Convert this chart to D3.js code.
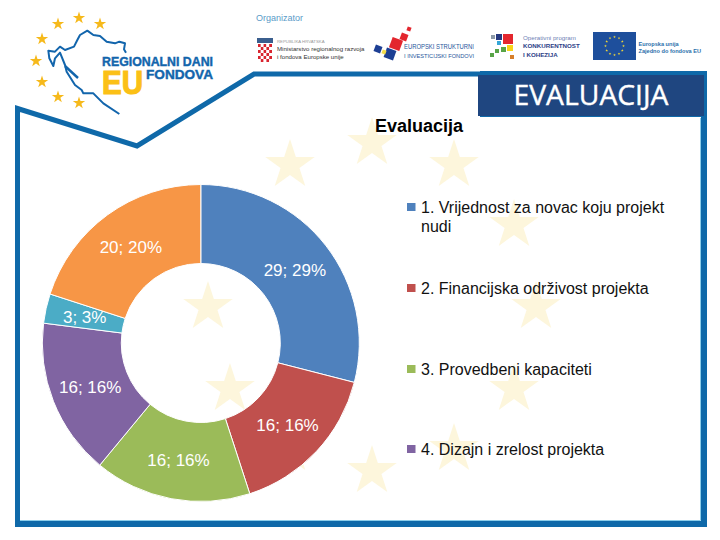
<!DOCTYPE html>
<html><head><meta charset="utf-8">
<script src="https://cdn.jsdelivr.net/npm/d3@7"></script>
<style>html,body{margin:0;padding:0;background:#fff}svg{display:block}</style>
</head><body><svg id="c" width="720" height="540"></svg>
<script>
const sliceValues=[29,16,16,16,3,20];
const sliceColors=["#4F81BD","#C0504D","#9BBB59","#8064A2","#4BACC6","#F79646"];
const legendLines=[["1. Vrijednost za novac koju projekt","nudi"],["2. Financijska održivost projekta"],["3. Provedbeni kapaciteti"],["4. Dizajn i zrelost projekta"]];
const legendY=[207,288,369,449];
const chartTitle="Evaluacija";
const headerTitle="EVALUACIJA";

const svg=d3.select("#c");
const star=r=>d3.symbol().type(d3.symbolStar).size(r*r/0.8908130915)();
const sans="'Liberation Sans',Arial,sans-serif";

// pale star ring behind the chart
const ringAngles=d3.range(12).map(i=>i*Math.PI/6);
svg.append("g").selectAll("path").data(ringAngles).join("path")
  .attr("d",star(26)).attr("fill","#fdf6dc")
  .attr("transform",a=>`translate(${372+164*Math.sin(a)},${307-164*Math.cos(a)})`);

// frame
const blue="#0f69a9";
svg.append("path").attr("d","M17.5,524 L17.5,108.5 L137,146 L254,74 L480,74").attr("fill","none").attr("stroke",blue).attr("stroke-width",5);
svg.append("rect").attr("x",15).attr("y",521).attr("width",692).attr("height",6).attr("fill",blue);
svg.append("rect").attr("x",701).attr("y",100).attr("width",6).attr("height",427).attr("fill",blue);
svg.append("path").attr("d","M20,520.5 H700.5 V118").attr("fill","none").attr("stroke","#8ccdea").attr("stroke-width",1);

// header
svg.append("rect").attr("x",480).attr("y",71).attr("width",227).attr("height",46).attr("fill",blue);
svg.append("rect").attr("x",478).attr("y",75).attr("width",226).attr("height",41).attr("fill","#1f4680");
svg.append("text").attr("x",591).attr("y",105).attr("text-anchor","middle")
  .attr("font-family","'Open Sans',sans-serif").attr("font-size",28).attr("fill","#fff").attr("stroke","#fff").attr("stroke-width",0.4).attr("textLength",155).attr("lengthAdjust","spacingAndGlyphs").text(headerTitle);

// logo: EU stars, map outline and wordmark
const logoStars=[[79,18],[100,24],[58,24],[42,39],[36,61],[42,82],[58,97],[79,103]];
svg.append("g").selectAll("path").data(logoStars).join("path")
  .attr("d",star(6.5)).attr("fill","#f6b91b").attr("transform",d=>`translate(${d[0]},${d[1]})`);
const mapPts=[[378,158],[372,148],[375,130],[358,125],[345,130],[320,125],[300,108],[280,105],[262,92],[240,105],[232,120],[222,140],[195,150],[180,140],[165,155],[145,152],[148,175],[160,198],[165,175],[180,158],[195,195],[200,215],[225,255],[245,270],[250,280],[280,280],[310,310],[358,342]];
svg.append("path").attr("d",d3.line().x(d=>d[0]/3).y(d=>d[1]/3)(mapPts))
  .attr("fill","none").attr("stroke","#1265ac").attr("stroke-width",2).attr("stroke-linejoin","round");
svg.append("path").attr("d","M65,66 L78,78").attr("stroke","#1265ac").attr("stroke-width",2.4);
const wm=svg.append("g").attr("font-family","'Liberation Sans',sans-serif").attr("font-weight","bold");
wm.append("text").attr("x",102).attr("y",66).attr("font-size",12.5).attr("fill","#1265ac").attr("stroke","#1265ac").attr("stroke-width",0.4).attr("textLength",111).attr("lengthAdjust","spacingAndGlyphs").text("REGIONALNI DANI");
wm.append("text").attr("x",146).attr("y",78.5).attr("font-size",12.5).attr("fill","#1265ac").attr("stroke","#1265ac").attr("stroke-width",0.4).attr("textLength",67).attr("lengthAdjust","spacingAndGlyphs").text("FONDOVA");
wm.append("text").attr("x",102).attr("y",94).attr("font-size",34).attr("fill","#fbc016").attr("stroke","#fbc016").attr("stroke-width",1.2).attr("textLength",41).attr("lengthAdjust","spacingAndGlyphs").text("EU");

// organiser block
const g=svg.append("g").attr("font-family",sans);
g.append("text").attr("x",256).attr("y",21).attr("font-size",9).attr("fill","#5a9bc8").text("Organizator");
// crest
const crest=g.append("g");
crest.append("rect").attr("x",257).attr("y",38).attr("width",16).attr("height",5).attr("fill","#3b5f8e");
d3.range(6).forEach(r=>d3.range(5).forEach(c=>{
  crest.append("rect").attr("x",258+c*2.8).attr("y",44+r*3).attr("width",2.8).attr("height",3).attr("fill",(r+c)%2?"#fff":"#d9252f");
}));
g.append("text").attr("x",277).attr("y",43).attr("font-size",4.3).attr("fill","#999").text("REPUBLIKA HRVATSKA");
g.append("text").attr("x",277).attr("y",51).attr("font-size",6.1).attr("fill","#333").text("Ministarstvo regionalnog razvoja");
g.append("text").attr("x",277).attr("y",58.5).attr("font-size",6.1).attr("fill","#333").text("i fondova Europske unije");
// ESI mark
[[378,49,7,"#1d3f94"],[390,54,10,"#1d3f94"],[384,52,4,"#f2dc4b"],[396,44,11,"#e3262e"],[404,37,7,"#e3262e"],[409,29,4,"#e3262e"]].forEach(d=>{
  g.append("rect").attr("x",-d[2]/2).attr("y",-d[2]/2).attr("width",d[2]).attr("height",d[2]).attr("fill",d[3])
   .attr("transform",`translate(${d[0]},${d[1]}) rotate(20)`);
});
g.append("text").attr("x",404).attr("y",49).attr("font-size",6.4).attr("fill","#27569b").attr("textLength",70).attr("lengthAdjust","spacingAndGlyphs").text("EUROPSKI STRUKTURNI");
g.append("text").attr("x",404).attr("y",58).attr("font-size",6.2).attr("fill","#27569b").attr("textLength",70).attr("lengthAdjust","spacingAndGlyphs").text("I INVESTICIJSKI FONDOVI");
// OP mark
[[491,35,4,"#8c9aa8"],[496,34,6,"#26397f"],[503,34,10,"#e3262e"],[497,41,4,"#35a7d8"],[495,49,4,"#58a447"],[490,53,4,"#58a447"],[501,47,5,"#58a447"],[507,45,6,"#f7d417"],[510,55,4,"#d77f2a"]].forEach(d=>{
  g.append("rect").attr("x",d[0]).attr("y",d[1]).attr("width",d[2]).attr("height",d[2]).attr("fill",d[3]);
});
g.append("text").attr("x",523).attr("y",40).attr("font-size",6.2).attr("fill","#6f7fb5").text("Operativni program");
g.append("text").attr("x",523).attr("y",48).attr("font-size",6.2).attr("font-weight","bold").attr("fill","#2d3e87").text("KONKURENTNOST");
g.append("text").attr("x",523).attr("y",57).attr("font-size",6.2).attr("font-weight","bold").attr("fill","#2d3e87").text("I KOHEZIJA");
// EU flag
g.append("rect").attr("x",593).attr("y",32).attr("width",43).attr("height",28).attr("fill","#1e4f9c");
g.append("g").selectAll("path").data(ringAngles).join("path").attr("d",star(1.4)).attr("fill","#f4d936")
  .attr("transform",a=>`translate(${614.5+9*Math.sin(a)},${46-9*Math.cos(a)})`);
g.append("text").attr("x",638.5).attr("y",46).attr("font-size",5.6).attr("font-weight","bold").attr("fill","#2a6fab").text("Europska unija");
g.append("text").attr("x",638.5).attr("y",53).attr("font-size",5.6).attr("font-weight","bold").attr("fill","#2a6fab").text("Zajedno do fondova EU");

// donut
const cx=200.8,cy=343;
const pie=d3.pie().sort(null)(sliceValues);
const arc=d3.arc().innerRadius(79.5).outerRadius(158.5);
const donut=svg.append("g").attr("transform",`translate(${cx},${cy})`);
donut.selectAll("path").data(pie).join("path").attr("d",arc)
  .attr("fill",(d,i)=>sliceColors[i]).attr("stroke","#fff").attr("stroke-width",1);
const total=d3.sum(sliceValues);
donut.selectAll("text").data(pie).join("text")
  .attr("transform",d=>`translate(${arc.centroid(d)})`).attr("dy","0.36em").attr("text-anchor","middle")
  .attr("font-family",sans).attr("font-size",17).attr("fill","#fff")
  .text(d=>`${d.value}; ${Math.round(d.value/total*100)}%`);

// title
svg.append("text").attr("x",419).attr("y",132).attr("text-anchor","middle").attr("font-family",sans)
  .attr("font-weight","bold").attr("font-size",18).attr("fill","#000").text(chartTitle);

// legend
const lg=svg.append("g").selectAll("g").data(legendLines).join("g").attr("transform",(d,i)=>`translate(407,${legendY[i]})`);
lg.append("rect").attr("x",0).attr("y",-4).attr("width",8.5).attr("height",8).attr("fill",(d,i)=>sliceColors[i]);
lg.each(function(lines){
  d3.select(this).selectAll("text").data(lines).join("text")
   .attr("x",14).attr("y",(d,i)=>6+i*19).attr("font-family",sans).attr("font-size",16).attr("fill","#111").text(d=>d);
});
</script></body></html>
